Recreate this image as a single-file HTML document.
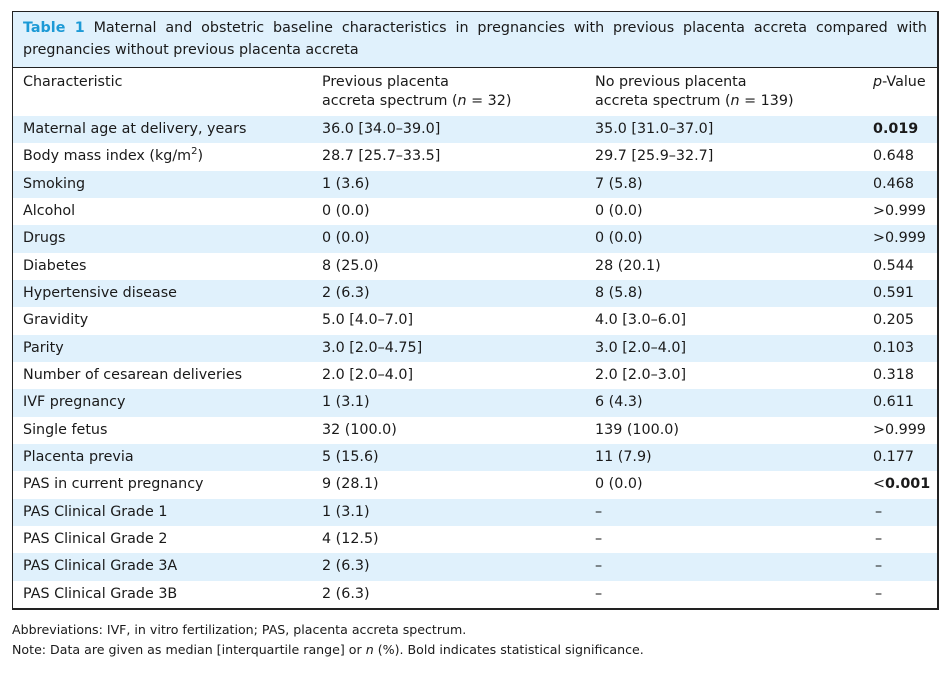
<!DOCTYPE html>
<html><head><style>
body{margin:0;width:951px;height:675px;background:#fff;font-family:"DejaVu Sans","Liberation Sans",sans-serif;color:#1a1a1a;position:relative;overflow:hidden}
.box{position:absolute;left:12px;top:11px;width:924px;height:596px;border:1.5px solid #222;border-right-width:2px;border-bottom-width:2px}
.title{background:#e0f1fc;height:56px;border-bottom:1.5px solid #222;padding:5px 10px 0 10px;font-size:14.3px;line-height:22px;text-align:justify;box-sizing:border-box;text-align-last:left}
.title b{color:#1d9ad6}
.hdr{height:48px;position:relative;font-size:14.3px;line-height:19px}
.row{height:27.33px;position:relative;font-size:14.3px;line-height:27px}
.row.b{background:#e0f1fc}
.c{position:absolute;top:0;white-space:nowrap}
.c1{left:10px}.c2{left:309px}.c3{left:582px}.c4{left:860px}
.hdr .c{top:5px}
.foot{position:absolute;left:12px;font-size:12.6px}
</style></head><body>
<div class="box">
<div class="title"><b>Table 1</b> Maternal and obstetric baseline characteristics in pregnancies with previous placenta accreta compared with pregnancies without previous placenta accreta</div>
<div class="hdr"><span class="c c1">Characteristic</span><span class="c c2">Previous placenta<br>accreta spectrum (<i>n</i> = 32)</span><span class="c c3">No previous placenta<br>accreta spectrum (<i>n</i> = 139)</span><span class="c c4"><i>p</i>-Value</span></div>
<div class="row b"><span class="c c1">Maternal age at delivery, years</span><span class="c c2">36.0 [34.0–39.0]</span><span class="c c3">35.0 [31.0–37.0]</span><span class="c c4"><b>0.019</b></span></div>
<div class="row"><span class="c c1">Body mass index (kg/m<sup style="font-size:10px;line-height:0">2</sup>)</span><span class="c c2">28.7 [25.7–33.5]</span><span class="c c3">29.7 [25.9–32.7]</span><span class="c c4">0.648</span></div>
<div class="row b"><span class="c c1">Smoking</span><span class="c c2">1 (3.6)</span><span class="c c3">7 (5.8)</span><span class="c c4">0.468</span></div>
<div class="row"><span class="c c1">Alcohol</span><span class="c c2">0 (0.0)</span><span class="c c3">0 (0.0)</span><span class="c c4">&gt;0.999</span></div>
<div class="row b"><span class="c c1">Drugs</span><span class="c c2">0 (0.0)</span><span class="c c3">0 (0.0)</span><span class="c c4">&gt;0.999</span></div>
<div class="row"><span class="c c1">Diabetes</span><span class="c c2">8 (25.0)</span><span class="c c3">28 (20.1)</span><span class="c c4">0.544</span></div>
<div class="row b"><span class="c c1">Hypertensive disease</span><span class="c c2">2 (6.3)</span><span class="c c3">8 (5.8)</span><span class="c c4">0.591</span></div>
<div class="row"><span class="c c1">Gravidity</span><span class="c c2">5.0 [4.0–7.0]</span><span class="c c3">4.0 [3.0–6.0]</span><span class="c c4">0.205</span></div>
<div class="row b"><span class="c c1">Parity</span><span class="c c2">3.0 [2.0–4.75]</span><span class="c c3">3.0 [2.0–4.0]</span><span class="c c4">0.103</span></div>
<div class="row"><span class="c c1">Number of cesarean deliveries</span><span class="c c2">2.0 [2.0–4.0]</span><span class="c c3">2.0 [2.0–3.0]</span><span class="c c4">0.318</span></div>
<div class="row b"><span class="c c1">IVF pregnancy</span><span class="c c2">1 (3.1)</span><span class="c c3">6 (4.3)</span><span class="c c4">0.611</span></div>
<div class="row"><span class="c c1">Single fetus</span><span class="c c2">32 (100.0)</span><span class="c c3">139 (100.0)</span><span class="c c4">&gt;0.999</span></div>
<div class="row b"><span class="c c1">Placenta previa</span><span class="c c2">5 (15.6)</span><span class="c c3">11 (7.9)</span><span class="c c4">0.177</span></div>
<div class="row"><span class="c c1">PAS in current pregnancy</span><span class="c c2">9 (28.1)</span><span class="c c3">0 (0.0)</span><span class="c c4">&lt;<b>0.001</b></span></div>
<div class="row b"><span class="c c1">PAS Clinical Grade 1</span><span class="c c2">1 (3.1)</span><span class="c c3">–</span><span class="c c4" style="left:862px">–</span></div>
<div class="row"><span class="c c1">PAS Clinical Grade 2</span><span class="c c2">4 (12.5)</span><span class="c c3">–</span><span class="c c4" style="left:862px">–</span></div>
<div class="row b"><span class="c c1">PAS Clinical Grade 3A</span><span class="c c2">2 (6.3)</span><span class="c c3">–</span><span class="c c4" style="left:862px">–</span></div>
<div class="row"><span class="c c1">PAS Clinical Grade 3B</span><span class="c c2">2 (6.3)</span><span class="c c3">–</span><span class="c c4" style="left:862px">–</span></div>
</div>
<div class="foot" style="top:622px">Abbreviations: IVF, in vitro fertilization; PAS, placenta accreta spectrum.</div>
<div class="foot" style="top:642px">Note: Data are given as median [interquartile range] or <i>n</i> (%). Bold indicates statistical significance.</div>
</body></html>
